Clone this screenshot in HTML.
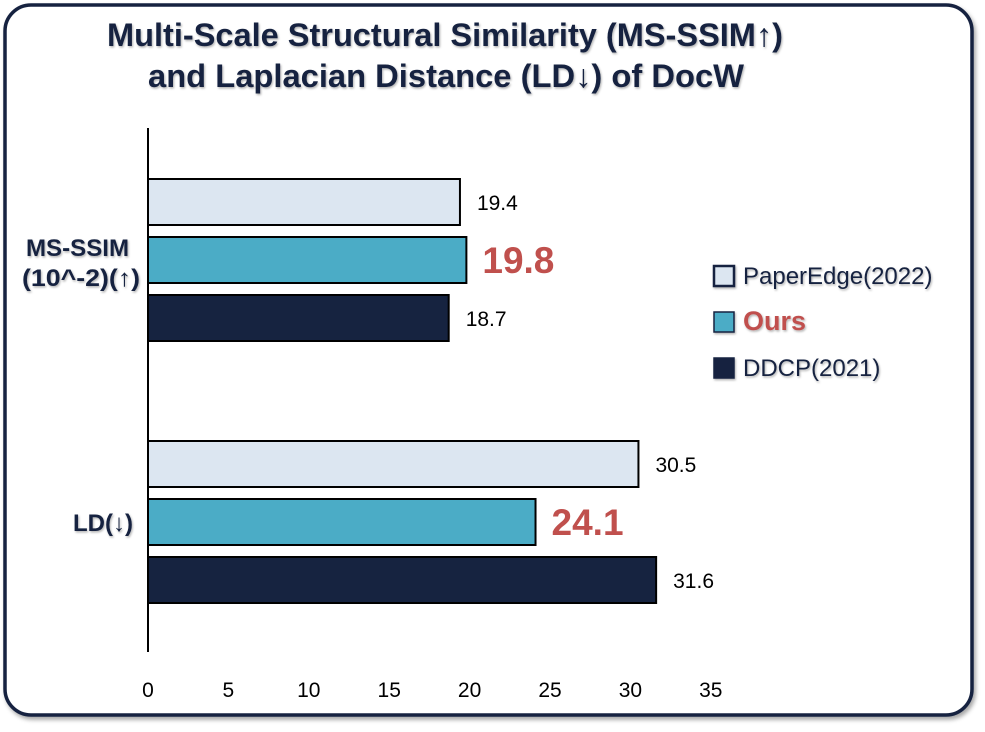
<!DOCTYPE html>
<html><head><meta charset="utf-8"><style>
body{margin:0;background:#fff;width:985px;height:732px;overflow:hidden;font-family:"Liberation Sans",sans-serif}
svg{display:block}
text{font-family:"Liberation Sans","DejaVu Sans",sans-serif}
</style></head><body>
<svg id="chart" width="985" height="732">
<defs><filter id="sh" x="-5%" y="-5%" width="110%" height="115%"><feDropShadow dx="2" dy="3" stdDeviation="2" flood-color="#000" flood-opacity="0.35"/></filter>
<filter id="ts"><feDropShadow dx="1" dy="1.5" stdDeviation="1" flood-color="#000" flood-opacity="0.3"/></filter></defs>
<rect x="5" y="5" width="967" height="710" rx="26" fill="#fff" stroke="#162340" stroke-width="3.5" filter="url(#sh)"/>
<g filter="url(#ts)" fill="#162340" font-weight="bold" font-size="32">
<text x="107" y="46" textLength="676" lengthAdjust="spacingAndGlyphs">Multi-Scale Structural Similarity (MS-SSIM↑)</text>
<text x="148" y="87" textLength="596" lengthAdjust="spacingAndGlyphs">and Laplacian Distance (LD↓) of DocW</text>
</g>
<g id="cats" filter="url(#ts)"></g>
<g id="plot"></g>
<g id="legend" filter="url(#ts)"></g>
</svg>
<script>
const categories=["MS-SSIM (10^-2)(↑)","LD(↓)"];
const paperEdge=[19.4,30.5];
const ours=[19.8,24.1];
const ddcp=[18.7,31.6];
const xTicks=[0,5,10,15,20,25,30,35];
const seriesNames=["PaperEdge(2022)","Ours","DDCP(2021)"];
const NS="http://www.w3.org/2000/svg";
const x0=148,pxPer=16.08;
const xs=v=>x0+v*pxPer;
const groupTop=[179,441],barH=46,barStep=58;
const fills=["#dce6f1","#4bacc6","#162340"];
const plot=document.getElementById('plot');
const cats=document.getElementById('cats');
function mk(tag,attrs,parent){const e=document.createElementNS(NS,tag);for(const k in attrs)e.setAttribute(k,attrs[k]);(parent||plot).appendChild(e);return e;}
const ax=mk('line',{x1:x0,y1:128,x2:x0,y2:652,stroke:'#000','stroke-width':2});


xTicks.forEach(t=>{const e=mk('text',{x:xs(t),y:697,'text-anchor':'middle','font-size':21,fill:'#000'});e.textContent=t;

});
const series=[paperEdge,ours,ddcp];
categories.forEach((c,ci)=>{
  const cy=groupTop[ci]+barStep+barH/2;
  const lab=mk('text',{'font-size':24,'font-weight':'bold',fill:'#162340'},cats);
  
  
  if(ci===0){const a=mk('tspan',{x:26,y:256,textLength:103,lengthAdjust:'spacingAndGlyphs'},lab);a.textContent="MS-SSIM";const b=mk('tspan',{x:22,y:286,textLength:118,lengthAdjust:'spacingAndGlyphs'},lab);b.textContent="(10^-2)(↑)";}
  else{lab.setAttribute('x',133);lab.setAttribute('text-anchor','end');lab.setAttribute('y',cy+9);lab.textContent=c;}
  series.forEach((s,si)=>{
    const y=groupTop[ci]+si*barStep;
    const r=mk('rect',{x:x0,y:y,width:xs(s[ci])-x0,height:barH,fill:fills[si],stroke:'#000','stroke-width':2});
    
    
    const big=si===1;
    const t=mk('text',{x:xs(s[ci])+(big?16:17),y:y+barH/2+(big?13:8),'font-size':big?37:21,'font-weight':big?'bold':'normal',fill:big?'#c0504d':'#000'});
    t.textContent=s[ci].toFixed(1);
    
    
  });
});
const lg=document.getElementById('legend');
seriesNames.forEach((n,i)=>{
  const y=276+i*46;
  const r=mk('rect',{x:714,y:y-10,width:20,height:20,fill:fills[i],stroke:'#162340','stroke-width':i===0?2.5:1.5},lg);
  
  
  const t=mk('text',{x:743,y:y+8,'font-size':i===1?27:24,'font-weight':i===1?'bold':'normal',fill:i===1?'#c0504d':'#162340'},lg);
  t.textContent=n;
  
  
});
</script>
</body></html>
